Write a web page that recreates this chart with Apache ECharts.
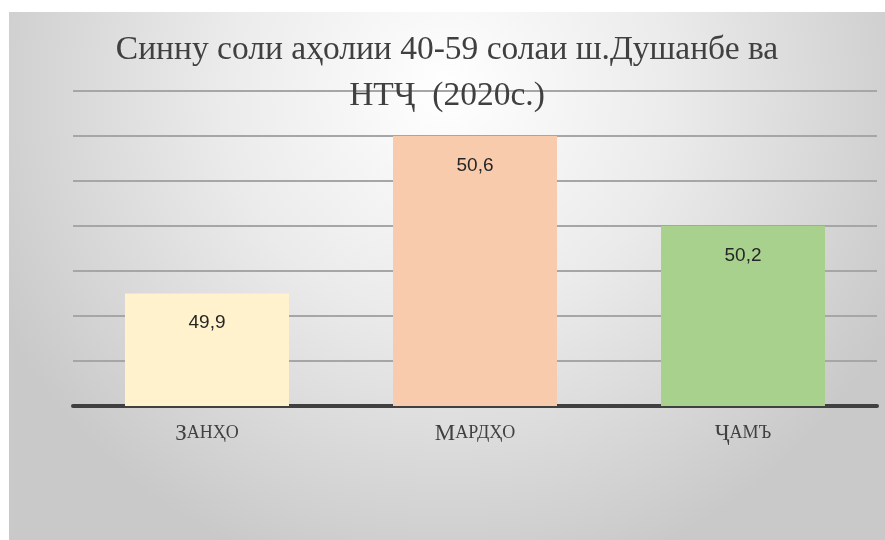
<!DOCTYPE html>
<html>
<head>
<meta charset="utf-8">
<script src="https://cdn.jsdelivr.net/npm/echarts@6/dist/echarts.min.js"></script>
<style>
  html, body { margin: 0; padding: 0; background: #fff; }
  #wrap { position: relative; width: 885px; height: 540px; overflow: hidden; }
  #main { position: absolute; left: 9px; top: 12px; width: 876px; height: 528px; }
</style>
</head>
<body>
<div id="wrap"><div id="main"></div></div>
<script>
// данные
var titleText = 'Синну соли аҳолии 40-59 солаи ш.Душанбе ва\nНТҶ  (2020с.)';
var categories = ['Занҳо', 'Мардҳо', 'Ҷамъ'];
var values = [49.9, 50.6, 50.2];
var barColors = ['#FFF2CC', '#F8CBAD', '#A9D18E'];
var yMin = 49.4, yMax = 50.8, yStep = 0.2;

var chart = echarts.init(document.getElementById('main'));

// small caps: first letter big, rest upper-case small
function smallCaps(s) {
    return '{big|' + s.charAt(0) + '}{small|' + s.slice(1).toUpperCase() + '}';
}

chart.setOption({
    backgroundColor: {
        type: 'radial', x: 0.5, y: 0.15, r: 0.95,
        colorStops: [
            { offset: 0, color: '#ffffff' },
            { offset: 0.45, color: '#ebebeb' },
            { offset: 1, color: '#c9c9c9' }
        ]
    },
    title: {
        text: titleText,
        left: 'center',
        top: 15,
        padding: 0,
        textStyle: {
            fontFamily: 'Liberation Serif',
            fontWeight: 'normal',
            fontSize: 33.5,
            lineHeight: 46,
            color: '#404040'
        }
    },
    grid: { left: 64, right: 8, top: 79, bottom: 134 },
    xAxis: {
        type: 'category',
        data: categories,
        axisTick: { show: false },
        axisLine: { lineStyle: { color: '#404040', width: 4 } },
        axisLabel: {
            margin: 16,
            formatter: function (v) { return smallCaps(v); },
            rich: {
                big: { fontFamily: 'Liberation Serif', fontSize: 23, color: '#404040' },
                small: { fontFamily: 'Liberation Serif', fontSize: 18, color: '#404040' }
            }
        }
    },
    yAxis: {
        type: 'value',
        min: yMin,
        max: yMax,
        interval: yStep,
        axisLabel: { show: false },
        axisLine: { show: false },
        axisTick: { show: false },
        splitLine: { lineStyle: { color: '#a6a6a6', width: 2 } }
    },
    series: [{
        type: 'bar',
        data: values.map(function (v, i) {
            return { value: v, itemStyle: { color: barColors[i] } };
        }),
        barWidth: 164,
        label: {
            show: true,
            position: 'insideTop',
            distance: 20,
            fontFamily: 'Liberation Sans',
            fontSize: 19,
            color: '#262626',
            formatter: function (p) { return String(p.value).replace('.', ','); }
        }
    }]
});
</script>
</body>
</html>
